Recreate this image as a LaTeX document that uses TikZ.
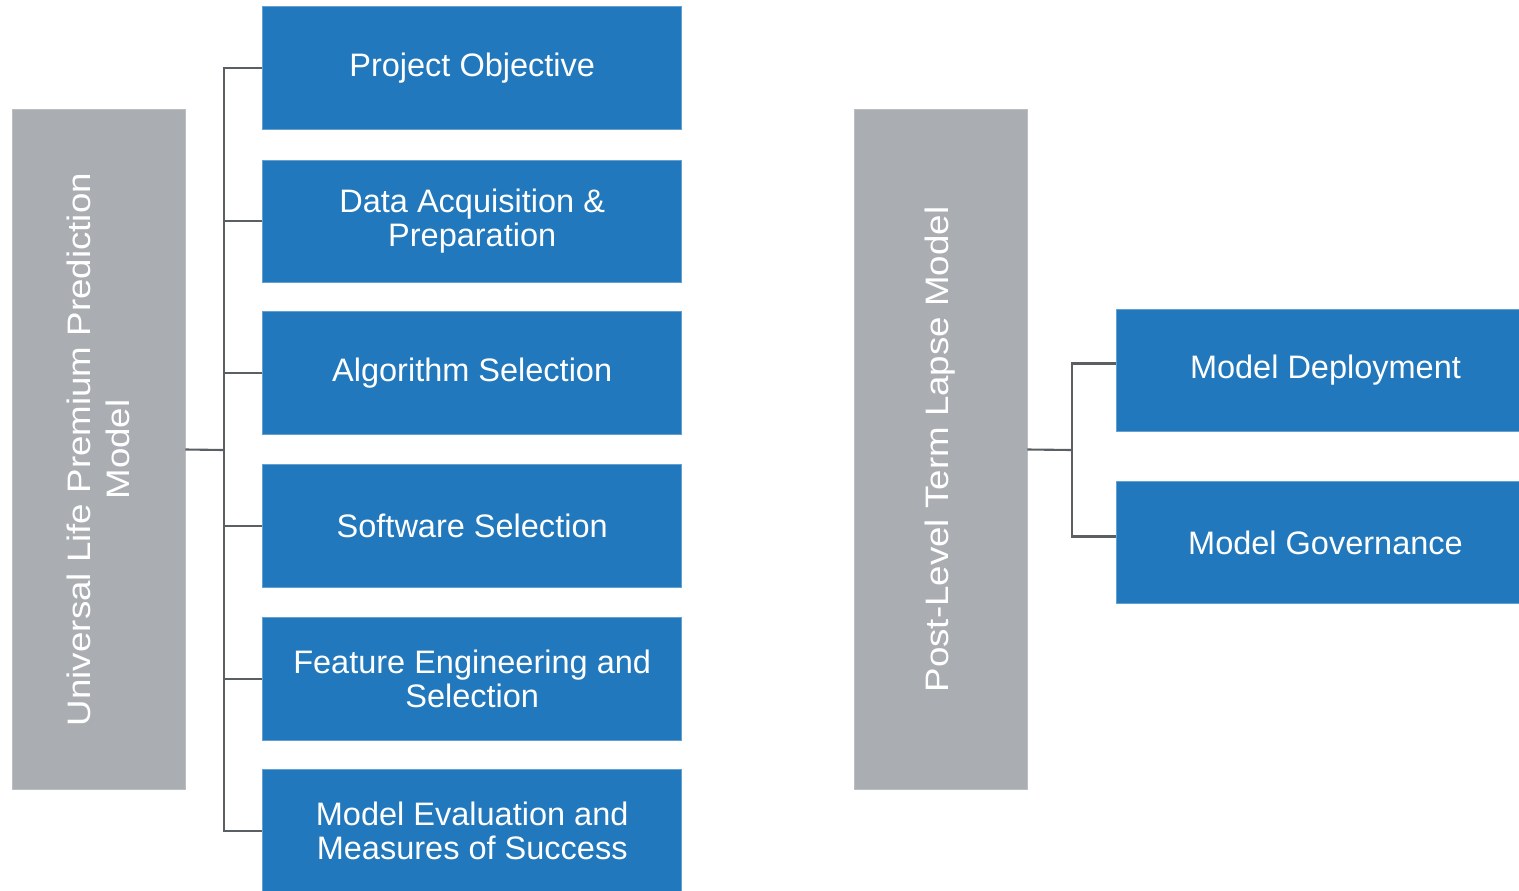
\documentclass[tikz,border=0pt]{standalone}
\usepackage{fontspec}
\setmainfont{Liberation Sans}
\usepackage{graphicx}
\usepackage{tikz}
\usetikzlibrary{positioning,calc}
\usepackage{xcolor}
\definecolor{stepblue}{HTML}{2278BC}
\definecolor{modelgray}{HTML}{AAAEB2}
\definecolor{wire}{HTML}{5A5F63}
\newcommand{\stretched}[1]{\scalebox{1.13}[1]{#1}}

\tikzset{
  task/.style={fill=stepblue, draw=stepblue!70!white, line width=0.4pt, text=white,
    minimum width=8.38cm, minimum height=2.45cm, inner sep=0pt, align=center,
    font=\fontsize{18.5}{19.5}\selectfont},
  model/.style={fill=modelgray, draw=modelgray!80!white, line width=0.4pt, text=white,
    minimum width=13.6cm, minimum height=3.46cm, inner sep=0pt, align=center, rotate=90,
    font=\fontsize{18.5}{22}\selectfont},
  conn/.style={wire, line width=1.2pt}
}

\begin{document}
\begin{tikzpicture}[x=0.02cm, y=-0.02cm]
  \useasboundingbox (0,0) rectangle (1519,890);
  % left model and its steps
  \node[model] (ul) at (98.5,449.5)
    {\stretched{Universal Life Premium Prediction}\\\stretched{Model}};
  \node[task] (b1) at (472.2,68)    {Project Objective};
  \node[task] (b2) at (472.2,221.3) {Data Acquisition \&\\Preparation};
  \node[task] (b3) at (472.2,373)   {Algorithm Selection};
  \node[task] (b4) at (472.2,526)   {Software Selection};
  \node[task] (b5) at (472.2,679)   {Feature Engineering and\\Selection};
  \node[task] (b6) at (472.2,831)   {Model Evaluation and\\Measures of Success};
  \coordinate (lbus) at (224,450);
  \draw[conn] (ul.south) -- (lbus);
  \draw[conn] (b1.west) -| (lbus) |- (b6.west);
  \foreach \i in {2,...,5} \draw[conn] (b\i.west) -- (b\i.west -| lbus);
  % right model
  \node[model] (pl) at (940.5,449.5) {\stretched{Post-Level Term Lapse Model}};
  \node[task] (d1) at (1325.5,370.5) {Model Deployment};
  \node[task] (d2) at (1325.5,542.5) {Model Governance};
  \coordinate (rbus) at (1072,450);
  \draw[conn] (pl.south) -- (rbus);
  \draw[conn] ($(d1.west)+(0,-7)$) -| (rbus) |- ($(d2.west)+(0,-6)$);
\end{tikzpicture}
\end{document}
